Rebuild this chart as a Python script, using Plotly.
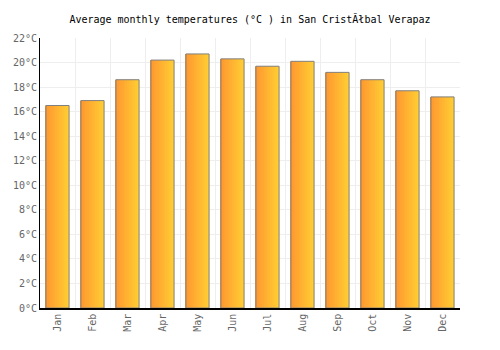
import plotly.graph_objects as go

months = ["Jan", "Feb", "Mar", "Apr", "May", "Jun", "Jul", "Aug", "Sep", "Oct", "Nov", "Dec"]
temps = [16.5, 16.9, 18.6, 20.2, 20.7, 20.3, 19.7, 20.1, 19.2, 18.6, 17.7, 17.2]
y_ticks = list(range(0, 23, 2))
y_labels = [f"{v}°C" for v in y_ticks]

fig = go.Figure()
N = 14
W = 0.66
c0 = (255, 152, 48)
c1 = (255, 204, 51)
for i in range(N):
    t = i / (N - 1)
    col = tuple(round(a + (b - a) * t) for a, b in zip(c0, c1))
    fig.add_trace(go.Bar(
        x=months, y=temps, width=W / N + 0.005, offset=-W / 2 + i * W / N,
        marker=dict(color=f"rgb{col}", line=dict(width=0)),
        hoverinfo="skip", showlegend=False))
fig.add_trace(go.Bar(
    x=months, y=temps, width=W, offset=-W / 2,
    marker=dict(color="rgba(0,0,0,0)", line=dict(color="#808080", width=1)),
    showlegend=False))

fig.update_layout(
    width=500, height=350, barmode="overlay",
    margin=dict(l=40, r=40, t=38, b=42),
    paper_bgcolor="white", plot_bgcolor="white",
    font=dict(family="DejaVu Sans Mono", size=10, color="#666"),
    title=dict(text="Average monthly temperatures (°C ) in San CristĂłbal Verapaz",
               x=0.5, xanchor="center", y=0.945, yanchor="middle",
               font=dict(family="DejaVu Sans Mono", size=10, color="black")),
)
fig.update_xaxes(type="category", tickson="boundaries", showgrid=True, gridcolor="#eeeeee",
                 showline=True, linecolor="black", linewidth=1.5, tickangle=-90,
                 ticks="", tickfont=dict(color="#666", size=10), range=[-0.5, 11.5])
fig.update_yaxes(range=[0, 22], tickvals=y_ticks, ticktext=y_labels, showgrid=True,
                 gridcolor="#eeeeee", showline=True, linecolor="black", linewidth=1,
                 ticks="", zeroline=False, tickfont=dict(color="#666", size=10))

fig.write_html("out.html")
